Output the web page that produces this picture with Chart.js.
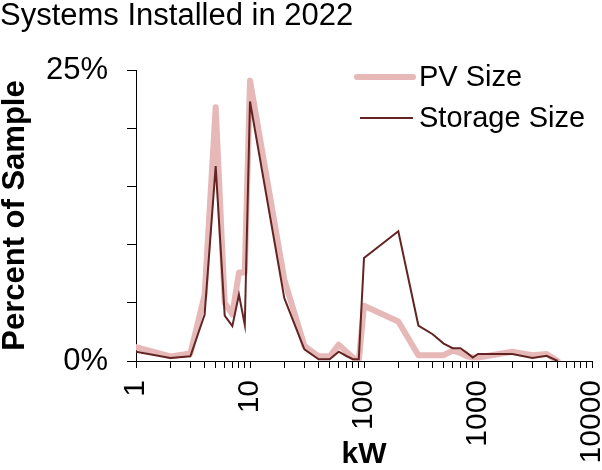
<!DOCTYPE html>
<html>
<head>
<meta charset="utf-8">
<script src="https://cdn.jsdelivr.net/npm/chart.js@4"></script>
<style>
  html, body { margin: 0; padding: 0; background: #fff; }
  #wrap { width: 602px; height: 470px; }
</style>
</head>
<body>
<div id="wrap"><canvas id="grafico"></canvas></div>
<script>
// kW buckets (x) and share of systems (%)
const tamanosKW = [1, 2, 3, 4, 5, 6, 7, 8, 9, 10, 20, 30, 40, 50, 60, 70, 80, 90,
  100, 200, 300, 400, 500, 600, 700, 800, 900, 1000, 2000, 3000, 4000, 5000];
const pvSize = [1.2, 0.4, 0.65, 5.7, 21.8, 5.0, 4.0, 7.6, 7.6, 24.1, 7.0, 1.3, 0.4, 0.4, 1.4, 0.8, 0.3, 0.0,
  4.75, 3.4, 0.5, 0.5, 0.5, 0.9, 0.7, 0.4, 0.3, 0.3, 0.8, 0.5, 0.6, 0.0];
const storageSize = [0.8, 0.25, 0.4, 4.0, 16.75, 3.9, 3.0, 5.7, 3.1, 22.3, 5.4, 1.0, 0.15, 0.15, 0.8, 0.43, 0.15, 0.15,
  8.85, 11.15, 3.05, 2.3, 1.5, 1.1, 1.1, 0.7, 0.3, 0.6, 0.6, 0.25, 0.45, 0.0];
const ticksY = [0, 5, 10, 15, 20, 25];
const etiquetasY = ["0%", "", "", "", "", "25%"];
const ticksX = [];
for (let d = 1; d < 10000; d *= 10) {
  for (let m = 1; m < 10; m++) ticksX.push(m * d);
}
ticksX.push(10000);

const fuente = "'Liberation Sans', Arial, sans-serif";
Chart.defaults.font.family = fuente;
Chart.defaults.color = "#000";

const puntos = (vals) => tamanosKW.map((x, i) => ({ x: x, y: vals[i] }));

// leyenda dentro del area del grafico, arriba a la derecha
const leyendaInterna = {
  id: "leyendaInterna",
  afterDraw(chart) {
    const ctx = chart.ctx;
    const filas = [
      { ds: chart.data.datasets[0], x0: 357, y: 77 },
      { ds: chart.data.datasets[1], x0: 360, y: 118 }
    ];
    ctx.save();
    ctx.font = "29px " + fuente;
    ctx.textBaseline = "middle";
    ctx.fillStyle = "#000";
    filas.forEach(f => {
      ctx.beginPath();
      ctx.strokeStyle = f.ds.borderColor;
      ctx.lineWidth = f.ds.borderWidth;
      ctx.lineCap = f.ds.borderCapStyle || "butt";
      ctx.moveTo(f.x0, f.y);
      ctx.lineTo(413, f.y);
      ctx.stroke();
      ctx.fillText(f.ds.label, 419, f.y + 1);
    });
    ctx.restore();
  }
};

new Chart(document.getElementById("grafico"), {
  type: "line",
  data: {
    datasets: [
      {
        label: "PV Size",
        data: puntos(pvSize),
        borderColor: "#e6b9b8",
        borderWidth: 6,
        borderCapStyle: "round",
        borderJoinStyle: "round",
        pointRadius: 0,
        tension: 0,
        order: 2
      },
      {
        label: "Storage Size",
        data: puntos(storageSize),
        borderColor: "#632523",
        borderWidth: 2,
        pointRadius: 0,
        tension: 0,
        order: 1
      }
    ]
  },
  options: {
    responsive: true,
    maintainAspectRatio: false,
    animation: false,
    layout: { padding: { left: 0, right: 10, top: 0, bottom: 0 } },
    plugins: {
      legend: { display: false },
      tooltip: { enabled: false },
      title: {
        display: true,
        text: "Systems Installed in 2022",
        align: "start",
        color: "#000",
        font: { size: 31, weight: "normal", lineHeight: 1.05 },
        padding: { top: 0, bottom: 37.5 }
      }
    },
    scales: {
      x: {
        type: "logarithmic",
        min: 1,
        max: 10000,
        afterBuildTicks: (scale) => { scale.ticks = ticksX.map(v => ({ value: v })); },
        afterFit: (scale) => {
          scale.height = 109;
          scale.paddingLeft = 0;
          scale.paddingRight = 0;
        },
        ticks: {
          autoSkip: false,
          minRotation: 90,
          maxRotation: 90,
          padding: 12,
          font: { size: 30 },
          color: "#000",
          callback: (v) => ([1, 10, 100, 1000, 10000].includes(v) ? String(v) : "")
        },
        grid: { drawOnChartArea: false, tickLength: 7, color: "#000" },
        border: { color: "#000", width: 1 },
        title: {
          display: true,
          text: "kW",
          color: "#000",
          font: { size: 30, weight: "bold", lineHeight: 1.0 },
          padding: { top: 0, bottom: 0 }
        }
      },
      y: {
        min: 0,
        max: 25,
        afterBuildTicks: (scale) => { scale.ticks = ticksY.map(v => ({ value: v })); },
        afterFit: (scale) => {
          scale.width = 136;
          scale.paddingTop = 0;
          scale.paddingBottom = 0;
        },
        ticks: {
          padding: 19,
          font: { size: 31 },
          color: "#000",
          callback: (v) => etiquetasY[ticksY.indexOf(v)]
        },
        grid: { drawOnChartArea: false, tickLength: 9, color: "#000" },
        border: { color: "#000", width: 1 },
        title: {
          display: true,
          text: "Percent of Sample",
          color: "#000",
          font: { size: 31, weight: "bold", lineHeight: 1.0 },
          padding: { top: 0, bottom: 0 }
        }
      }
    }
  },
  plugins: [leyendaInterna]
});
</script>
</body>
</html>
